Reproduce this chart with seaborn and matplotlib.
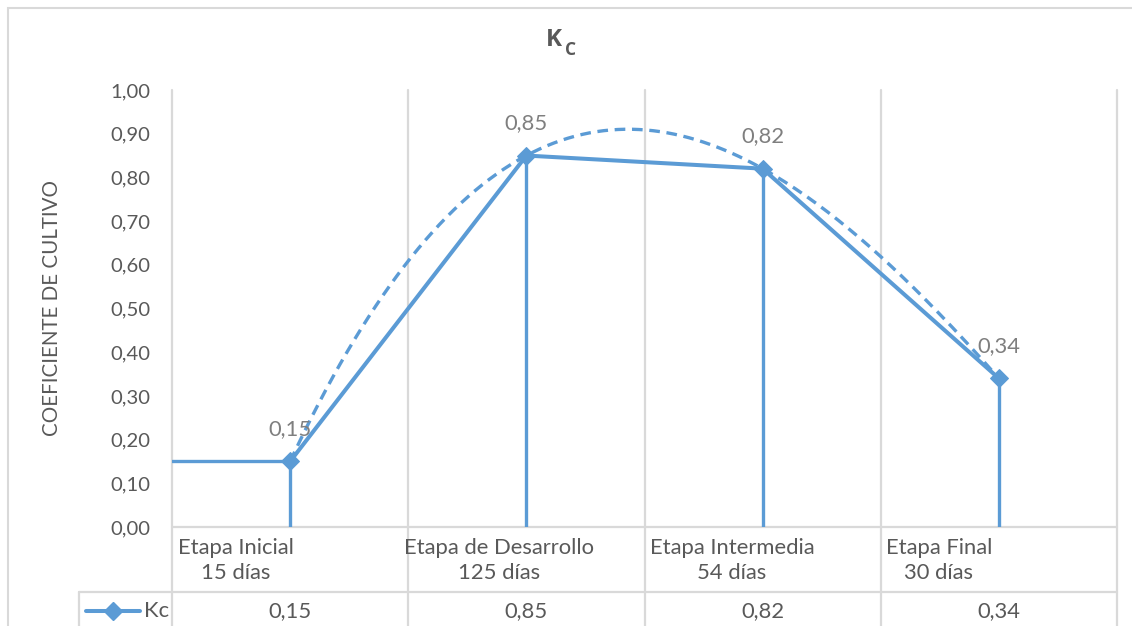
import numpy as np
import pandas as pd
import matplotlib
matplotlib.use("Agg")
import matplotlib.pyplot as plt
from matplotlib.patches import Rectangle
import seaborn as sns

# --- data ---
stages = ["Etapa Inicial", "Etapa de Desarrollo", "Etapa Intermedia", "Etapa Final"]
durations = ["15 días", "125 días", "54 días", "30 días"]
kc = [0.15, 0.85, 0.82, 0.34]
y_ticks = [0.0, 0.1, 0.2, 0.3, 0.4, 0.5, 0.6, 0.7, 0.8, 0.9, 1.0]
series_name = "Kc"

BLUE = "#5B9BD5"
GRID = "#D9D9D9"
TXT = "#595959"
LBL = "#7F7F7F"

sns.set_style("white")
plt.rcParams["font.family"] = ["Lato", "DejaVu Sans"]

FS_TICK = 14.6
FS_CAT = 15.8
FS_VAL = 15.8

W, H = 1132, 626
fig = plt.figure(figsize=(W / 100, H / 100), dpi=100)
ax = fig.add_axes([172 / W, 1 - 527 / H, (1117 - 172) / W, (527 - 90) / H])

x = np.arange(len(kc))
df = pd.DataFrame({"x": x, "kc": kc})

# polynomial trendline (order 3) fitted to the series
coef = np.polyfit(x, kc, 3)
xs = np.linspace(x.min(), x.max(), 200)
trend = pd.DataFrame({"x": xs, "kc": np.polyval(coef, xs)})

ax.set_xlim(-0.5, len(kc) - 0.5)
ax.set_ylim(0, 1.0)

# category separators (vertical gridlines) running through the data table
tbl_bottom = -(H - 527) / 437
row_split = -(592 - 527) / 437
xt = ax.get_xaxis_transform()
for b in np.arange(-0.5, len(kc), 1.0):
    ax.plot([b, b], [1, tbl_bottom], color=GRID, lw=1.6, transform=xt,
            clip_on=False, zorder=0.5)
legend_left = (79 - 172) / 236.25 - 0.5
ax.plot([-0.5, len(kc) - 0.5], [0, 0], color=GRID, lw=1.6, transform=xt,
        clip_on=False, zorder=0.5)
ax.plot([legend_left, len(kc) - 0.5], [row_split, row_split], color=GRID,
        lw=1.6, transform=xt, clip_on=False, zorder=0.5)
ax.plot([legend_left, legend_left], [row_split, tbl_bottom], color=GRID,
        lw=1.6, transform=xt, clip_on=False, zorder=0.5)

# drop lines and initial plateau
for xi, v in zip(x, kc):
    ax.plot([xi, xi], [0, v], color=BLUE, lw=2.4, solid_capstyle="butt", zorder=2)
ax.plot([-0.5, x[0]], [kc[0], kc[0]], color=BLUE, lw=2.4, zorder=2)

# trendline
sns.lineplot(data=trend, x="x", y="kc", ax=ax, color=BLUE, lw=2.4,
             linestyle=(0, (3.2, 2.0)), zorder=3)
# main series
sns.lineplot(data=df, x="x", y="kc", ax=ax, color=BLUE, lw=2.9,
             marker="D", markersize=9, markeredgecolor=BLUE, zorder=4)

# data labels
for xi, v in zip(x, kc):
    ax.annotate(f"{v:.2f}".replace(".", ","), (xi, v), xytext=(0, 23.5),
                textcoords="offset points", ha="center", va="center",
                fontsize=FS_VAL, color=LBL, zorder=5)

# axes styling
for s in ["top", "right", "bottom", "left"]:
    ax.spines[s].set_visible(False)
ax.set_xticks([])
ax.set_yticks(y_ticks)
ax.set_yticklabels([f"{t:.2f}".replace(".", ",") for t in y_ticks],
                   fontsize=FS_TICK, color=TXT)
ax.tick_params(axis="y", length=0, pad=15.5)
ax.set_xlabel("")
ax.set_ylabel("COEFICIENTE DE CULTIVO", fontsize=14.8, color=TXT)
ax.yaxis.set_label_coords(-(172 - 62) / 945, 0.5)
if ax.get_legend():
    ax.get_legend().remove()

# category row of the data table
cat_y = -(560.5 - 527) / 437
offsets = [6, -4, 5, 5]
for xi, st, du, dx in zip(x, stages, durations, offsets):
    ax.text(xi - 0.5 + dx / 236.25, cat_y, f"{st}\n{du}", transform=xt,
            ha="left", va="center", multialignment="center", fontsize=FS_CAT,
            color=TXT, linespacing=1.3, clip_on=False)

# value row of the data table
val_y = -(611 - 527) / 437
for xi, v in zip(x, kc):
    ax.text(xi, val_y, f"{v:.2f}".replace(".", ","), transform=xt, ha="center",
            va="center", fontsize=FS_VAL, color=TXT, clip_on=False)

# legend key inside the value row
kx0 = (86 - 172) / 236.25 - 0.5
kx1 = (140 - 172) / 236.25 - 0.5
ax.plot([kx0, kx1], [val_y, val_y], color=BLUE, lw=2.9, transform=xt, clip_on=False)
ax.plot([(kx0 + kx1) / 2], [val_y], marker="D", markersize=9, color=BLUE,
        transform=xt, clip_on=False)
ax.text((144 - 172) / 236.25 - 0.5, val_y, series_name, transform=xt, ha="left",
        va="center", fontsize=FS_VAL, color=TXT, clip_on=False)

# title K with subscript c
title_font = ["Open Sans", "DejaVu Sans"]
fig.text(546 / W, 1 - 40 / H, "K", ha="left", va="center", fontsize=17.5,
         fontweight="bold", color=TXT, family=title_font)
fig.text(565 / W, 1 - 50 / H, "C", ha="left", va="center", fontsize=12.5,
         fontweight="bold", color=TXT, family=title_font)

# chart frame
fig.patches.append(Rectangle((8 / W, -0.05), 1.0, 1 - 8 / H + 0.05,
                             transform=fig.transFigure, fill=False,
                             edgecolor=GRID, lw=1.5))

fig.savefig("out.png", dpi=100, facecolor="white")
